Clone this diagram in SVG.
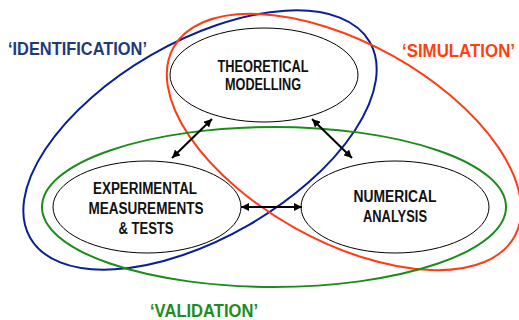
<svg xmlns="http://www.w3.org/2000/svg" width="519" height="320" viewBox="0 0 519 320">
<style>
.node{fill:none;stroke:#000;stroke-width:1}
.big{fill:none;stroke-width:2}
.nt{font-family:"Liberation Sans",Arial,sans-serif;font-weight:bold;font-size:16px;fill:#111;text-anchor:middle}
.lbl{font-family:"Liberation Sans",Arial,sans-serif;font-weight:bold;font-size:17.5px}
.conn{stroke:#000;stroke-width:2;fill:none;marker-start:url(#ah);marker-end:url(#ah)}
</style>
<defs>
<marker id="ah" viewBox="0 0 10 10" refX="10" refY="5" markerUnits="userSpaceOnUse" markerWidth="8" markerHeight="8" orient="auto-start-reverse">
<path d="M0,0 L10,5 L0,10 z" fill="#000"/>
</marker>
</defs>
<rect width="519" height="320" fill="#fff"/>
<g id="sets">
<ellipse id="identification" class="big" stroke="#0A1E96" cx="200" cy="140" rx="196" ry="98" transform="rotate(-30 200 140)"/>
<ellipse id="simulation" class="big" stroke="#FF3C14" cx="344" cy="142" rx="195" ry="99" transform="rotate(29 344 142)"/>
<ellipse id="validation" class="big" stroke="#1A8C1A" cx="274" cy="207" rx="232" ry="80"/>
</g>
<g id="theoretical">
<ellipse class="node" cx="264" cy="75" rx="94" ry="47"/>
<text class="nt" x="263" y="72" textLength="91" lengthAdjust="spacingAndGlyphs">THEORETICAL</text>
<text class="nt" x="263" y="90" textLength="76" lengthAdjust="spacingAndGlyphs">MODELLING</text>
</g>
<g id="experimental">
<ellipse class="node" cx="147" cy="207" rx="94" ry="46"/>
<text class="nt" x="145" y="194" textLength="104" lengthAdjust="spacingAndGlyphs">EXPERIMENTAL</text>
<text class="nt" x="146" y="214" textLength="115" lengthAdjust="spacingAndGlyphs">MEASUREMENTS</text>
<text class="nt" x="146" y="234" textLength="55" lengthAdjust="spacingAndGlyphs">&amp; TESTS</text>
</g>
<g id="numerical">
<ellipse class="node" cx="395" cy="207" rx="94" ry="46"/>
<text class="nt" x="395" y="202" textLength="83" lengthAdjust="spacingAndGlyphs">NUMERICAL</text>
<text class="nt" x="395" y="222" textLength="64" lengthAdjust="spacingAndGlyphs">ANALYSIS</text>
</g>
<g id="connectors">
<line class="conn" x1="212" y1="119" x2="172" y2="158"/>
<line class="conn" x1="312" y1="119" x2="352" y2="158"/>
<line class="conn" x1="241" y1="207" x2="302" y2="207"/>
</g>
<g id="labels">
<text class="lbl" fill="#1F3A78" x="8" y="55" textLength="139" lengthAdjust="spacingAndGlyphs">‘IDENTIFICATION’</text>
<text class="lbl" fill="#FF4011" x="402" y="57" textLength="113" lengthAdjust="spacingAndGlyphs">‘SIMULATION’</text>
<text class="lbl" fill="#1E8C1E" x="150" y="317" textLength="108" lengthAdjust="spacingAndGlyphs">‘VALIDATION’</text>
</g>
</svg>
